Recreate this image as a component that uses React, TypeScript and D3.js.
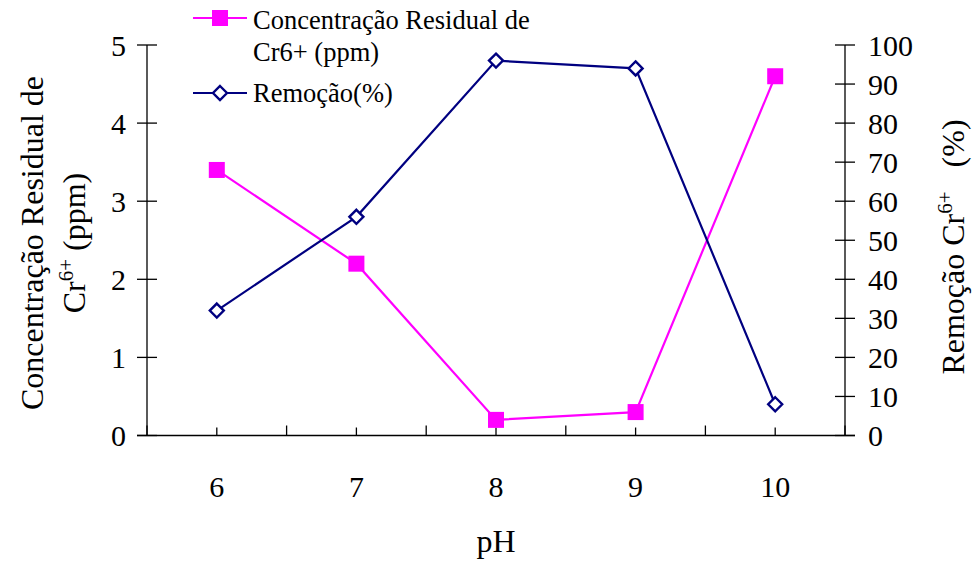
import React from "react";
import * as d3 from "d3";

// pH values tested
const phCategories = ["6", "7", "8", "9", "10"];
// Residual Cr6+ concentration (ppm), left axis
const residualPpm = [3.4, 2.2, 0.2, 0.3, 4.6];
// Cr6+ removal (%), right axis
const removalPct = [32, 56, 96, 94, 8];
const leftTicks = [0, 1, 2, 3, 4, 5];
const rightTicks = [0, 10, 20, 30, 40, 50, 60, 70, 80, 90, 100];

const W = 975;
const H = 561;
const FONT = '"Liberation Serif", "Times New Roman", Tinos, "DejaVu Serif", serif';
const PINK = "#FF00FF";
const NAVY = "#000080";

export default function App() {
  const left = 147;
  const right = 845;
  const top = 45;
  const bottom = 435.5;

  const x = d3.scaleBand<string>().domain(phCategories).range([left, right]).padding(0);
  const cx = (c: string) => (x(c) as number) + x.bandwidth() / 2;
  const yL = d3.scaleLinear().domain([0, 5]).range([bottom, top]);
  const yR = d3.scaleLinear().domain([0, 100]).range([bottom, top]);

  const pinkLine = d3
    .line<number>()
    .x((_, i) => cx(phCategories[i]))
    .y((d) => yL(d))(residualPpm) as string;
  const navyLine = d3
    .line<number>()
    .x((_, i) => cx(phCategories[i]))
    .y((d) => yR(d))(removalPct) as string;

  const boundaries = d3.range(phCategories.length + 1).map((i) => left + i * x.bandwidth());

  const sq = 16;
  const dia = 7;
  const diamond = (px: number, py: number) =>
    `M${px},${py - dia}L${px + dia},${py}L${px},${py + dia}L${px - dia},${py}Z`;

  return (
    <svg
      width={W}
      height={H}
      style={{ display: "block", position: "absolute", left: 0, top: 0, background: "#fff", fontFamily: FONT }}
    >
      <rect width={W} height={H} fill="#fff" />

      {/* axes */}
      <g stroke="#000" strokeWidth={1.3} fill="none">
        <line x1={left} x2={left} y1={top} y2={bottom} />
        <line x1={right} x2={right} y1={top} y2={bottom} />
        <line x1={left - 10} x2={right + 10} y1={bottom} y2={bottom} />
        {leftTicks.map((t) => (
          <line key={"lt" + t} x1={left - 10} x2={left + 10} y1={yL(t)} y2={yL(t)} />
        ))}
        {rightTicks.map((t) => (
          <line key={"rt" + t} x1={right - 10} x2={right + 10} y1={yR(t)} y2={yR(t)} />
        ))}
        {boundaries.map((bx, i) => (
          <line key={"bt" + i} x1={bx} x2={bx} y1={bottom} y2={bottom - 10} />
        ))}
        {phCategories.map((c) => (
          <line key={"ct" + c} x1={cx(c)} x2={cx(c)} y1={bottom} y2={bottom - 8} />
        ))}
      </g>

      {/* tick labels */}
      <g fontSize={30} fill="#000">
        {leftTicks.map((t) => (
          <text key={"ll" + t} x={126} y={yL(t)} dy="0.35em" textAnchor="end">
            {t}
          </text>
        ))}
        {rightTicks.map((t) => (
          <text key={"rl" + t} x={868} y={yR(t)} dy="0.35em" textAnchor="start">
            {t}
          </text>
        ))}
        {phCategories.map((c) => (
          <text key={"xl" + c} x={cx(c)} y={497} textAnchor="middle">
            {c}
          </text>
        ))}
      </g>

      {/* axis titles */}
      <g fontSize={32} fill="#000">
        <text x={496} y={552} textAnchor="middle">pH</text>
        <text transform="translate(43,243) rotate(-90)" textAnchor="middle">
          Concentração Residual de
        </text>
        <text transform="translate(85,243) rotate(-90)" textAnchor="middle">
          Cr<tspan dy="-12" fontSize={21}>6+</tspan>
          <tspan dy="12"> (ppm)</tspan>
        </text>
        <text transform="translate(964,247) rotate(-90)" textAnchor="middle">
          Remoção Cr<tspan dy="-12" fontSize={21}>6+</tspan>
          <tspan dy="12" xmlSpace="preserve">{"   (%)"}</tspan>
        </text>
      </g>

      {/* series */}
      <path d={pinkLine} fill="none" stroke={PINK} strokeWidth={2.2} />
      <path d={navyLine} fill="none" stroke={NAVY} strokeWidth={2.2} />
      {residualPpm.map((v, i) => (
        <rect
          key={"sq" + i}
          x={cx(phCategories[i]) - sq / 2}
          y={yL(v) - sq / 2}
          width={sq}
          height={sq}
          fill={PINK}
        />
      ))}
      {removalPct.map((v, i) => (
        <path
          key={"dm" + i}
          d={diamond(cx(phCategories[i]), yR(v))}
          fill="#fff"
          stroke={NAVY}
          strokeWidth={2.4}
        />
      ))}

      {/* legend */}
      <g fontSize={26.5} fill="#000">
        <line x1={193} x2={247} y1={18} y2={18} stroke={PINK} strokeWidth={2.2} />
        <rect x={220 - sq / 2} y={18 - sq / 2} width={sq} height={sq} fill={PINK} />
        <text x={253} y={29}>Concentração Residual de</text>
        <text x={253} y={61}>Cr6+ (ppm)</text>
        <line x1={193} x2={247} y1={93} y2={93} stroke={NAVY} strokeWidth={2.2} />
        <path d={diamond(220, 93)} fill="#fff" stroke={NAVY} strokeWidth={2.4} />
        <text x={253} y={102}>Remoção(%)</text>
      </g>
    </svg>
  );
}
